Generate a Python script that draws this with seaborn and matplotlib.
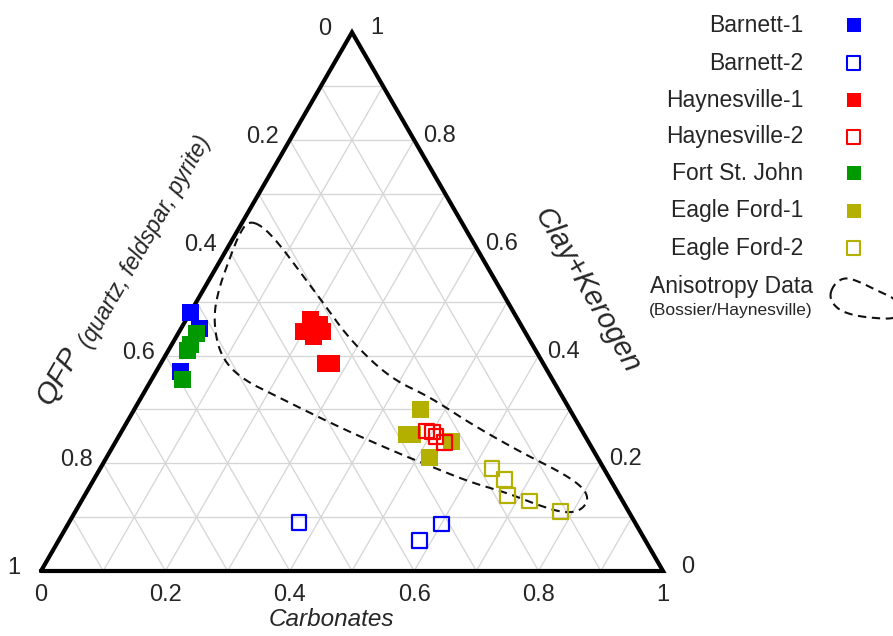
import numpy as np
import pandas as pd
import matplotlib
matplotlib.use("Agg")
import matplotlib.pyplot as plt
import seaborn as sns

# Sample compositions: carbonate and clay+kerogen fractions (QFP is the remainder)
barnett1_carb = [0.00, 0.03, 0.04]
barnett1_clay = [0.48, 0.45, 0.37]
barnett2_carb = [0.37, 0.58, 0.60]
barnett2_clay = [0.090, 0.057, 0.087]
haynes1_carb = [0.20, 0.22, 0.20, 0.23, 0.22, 0.265, 0.275]
haynes1_clay = [0.466, 0.457, 0.445, 0.445, 0.435, 0.385, 0.385]
haynes2_carb = [0.49, 0.50, 0.51, 0.53]
haynes2_clay = [0.260, 0.258, 0.250, 0.238]
fsj_carb = [0.03, 0.03, 0.03, 0.05]
fsj_clay = [0.44, 0.42, 0.41, 0.355]
eagle1_carb = [0.46, 0.46, 0.47, 0.52, 0.54]
eagle1_clay = [0.300, 0.254, 0.254, 0.210, 0.240]
eagle2_carb = [0.63, 0.66, 0.68, 0.72, 0.78]
eagle2_clay = [0.19, 0.17, 0.14, 0.13, 0.11]

# Envelope of the Bossier/Haynesville anisotropy dataset
aniso_carb = [0.008, 0.035, 0.082, 0.139, 0.199, 0.282, 0.382, 0.464, 0.547,
              0.660, 0.743, 0.793, 0.815, 0.811, 0.785, 0.736, 0.677, 0.607,
              0.528, 0.469, 0.348, 0.224, 0.141, 0.087, 0.044, 0.024, 0.012,
              0.006]
aniso_clay = [0.650, 0.641, 0.605, 0.555, 0.503, 0.429, 0.358, 0.323, 0.277,
              0.221, 0.184, 0.156, 0.132, 0.111, 0.108, 0.123, 0.145, 0.165,
              0.195, 0.217, 0.266, 0.321, 0.358, 0.401, 0.466, 0.522, 0.587,
              0.625]

ticks = [0.0, 0.2, 0.4, 0.6, 0.8, 1.0]
tick_text = ["0", "0.2", "0.4", "0.6", "0.8", "1"]

groups = [
    ("Barnett-1", barnett1_carb, barnett1_clay, "#0000ff", True),
    ("Barnett-2", barnett2_carb, barnett2_clay, "#0000ff", False),
    ("Haynesville-1", haynes1_carb, haynes1_clay, "#ff0000", True),
    ("Haynesville-2", haynes2_carb, haynes2_clay, "#ff0000", False),
    ("Fort St. John", fsj_carb, fsj_clay, "#009a00", True),
    ("Eagle Ford-1", eagle1_carb, eagle1_clay, "#b4b000", True),
    ("Eagle Ford-2", eagle2_carb, eagle2_clay, "#b4b000", False),
]
draw_order = ["Barnett-1", "Barnett-2", "Haynesville-1", "Fort St. John",
              "Eagle Ford-1", "Eagle Ford-2", "Haynesville-2"]

H = np.sqrt(3) / 2


def tern(carb, clay):
    carb = np.asarray(carb, float)
    clay = np.asarray(clay, float)
    return carb + clay / 2, clay * H


def smooth_closed(x, y, n=4):
    pts = np.column_stack([x, y])
    for _ in range(n):
        nxt = np.roll(pts, -1, axis=0)
        q = 0.75 * pts + 0.25 * nxt
        r = 0.25 * pts + 0.75 * nxt
        pts = np.empty((2 * len(q), 2))
        pts[0::2] = q
        pts[1::2] = r
    pts = np.vstack([pts, pts[:1]])
    return pts[:, 0], pts[:, 1]


rows = []
for name, c, k, col, filled in groups:
    for ci, ki in zip(c, k):
        rows.append({"formation": name, "carbonates": ci, "clay": ki,
                     "qfp": 1 - ci - ki})
df = pd.DataFrame(rows)
df["x"], df["y"] = tern(df["carbonates"], df["clay"])

sns.set_theme(style="white")
plt.rcParams["font.family"] = ["Liberation Sans", "DejaVu Sans"]

W, Hpx = 893, 636
S = 622.0  # pixels per unit side
X0, Y0 = 41.0, 571.0
fig = plt.figure(figsize=(W / 100, Hpx / 100), dpi=100)
ax = fig.add_axes([0, 0, 1, 1])
ax.set_xlim(-X0 / S, (W - X0) / S)
ax.set_ylim(-(Hpx - Y0) / S, Y0 / S)
ax.axis("off")


def P(px, py):
    return (px - X0) / S, (Y0 - py) / S


# grid
grid_kw = dict(color="#d6d6d6", lw=0.95, zorder=1)
for t in np.arange(1, 10) / 10:
    xs, ys = tern([0, 1 - t], [t, t])
    ax.plot(xs, ys, **grid_kw)
    xs, ys = tern([t, t], [0, 1 - t])
    ax.plot(xs, ys, **grid_kw)
    xs, ys = tern([1 - t, 0], [0, 1 - t])
    ax.plot(xs, ys, **grid_kw)

# anisotropy envelope
ex, ey = tern(aniso_carb, aniso_clay)
sx, sy = smooth_closed(ex, ey)
ax.plot(sx, sy, color="#111111", lw=1.5, ls=(0, (4, 2.7)), zorder=2)

# triangle frame
fx, fy = tern([0, 1, 0, 0], [0, 0, 1, 0])
ax.plot(fx, fy, color="black", lw=3.0, solid_joinstyle="miter", zorder=3)

# samples
style = {g[0]: g for g in groups}
for name in draw_order:
    _, c, k, col, filled = style[name]
    sub = df[df["formation"] == name]
    if filled:
        sns.scatterplot(data=sub, x="x", y="y", ax=ax, marker="s", s=150,
                        color=col, edgecolor="none", linewidth=0, zorder=5,
                        legend=False)
    else:
        sns.scatterplot(data=sub, x="x", y="y", ax=ax, marker="s", s=112,
                        facecolor="none", edgecolor=col, linewidth=1.6,
                        zorder=6, legend=False)

# tick labels
tfs = 17
for v, s in zip(ticks, tick_text):
    bx, by = tern(v, 0)
    ax.text(bx, by - 24 / S, s, ha="center", va="center", fontsize=tfs)
    rx, ry = tern(1 - v, v)
    ax.text(rx + 25 / S, ry + 4 / S, s, ha="center", va="center", fontsize=tfs)
    lx, ly = tern(0, 1 - v)
    ax.text(lx - 27 / S, ly + 3 / S, s, ha="center", va="center", fontsize=tfs)

# axis titles
ax.text(*P(331, 619), "Carbonates", ha="center", va="center", fontsize=17.5,
        style="italic")
ax.text(*P(587, 290), "Clay+Kerogen", ha="center", va="center", fontsize=21,
        style="italic", rotation=-60, rotation_mode="anchor")
ax.text(*P(59, 376), "QFP", ha="center", va="center", fontsize=21.5,
        style="italic", rotation=60, rotation_mode="anchor")
ax.text(*P(145, 242), "(quartz, feldspar, pyrite)", ha="center", va="center",
        fontsize=16.5, style="italic", rotation=60, rotation_mode="anchor")

# legend panel in pixel coordinates
lg = fig.add_axes([0, 0, 1, 1], facecolor="none")
lg.set_xlim(0, W)
lg.set_ylim(Hpx, 0)
lg.axis("off")
row_y = [25, 63, 100, 137, 173, 211, 248]
for (name, c, k, col, filled), yy in zip(groups, row_y):
    lg.text(803, yy, name, ha="right", va="center", fontsize=16.5)
    if filled:
        lg.scatter([853.5], [yy], marker="s", s=115, color=col, linewidth=0)
    else:
        lg.scatter([853.5], [yy], marker="s", s=90, facecolor="none",
                   edgecolor=col, linewidth=1.5)
lg.text(813, 287, "Anisotropy Data", ha="right", va="center", fontsize=16.5)
lg.text(813, 311, "(Bossier/Haynesville)", ha="right", va="center",
        fontsize=12.5)
ix = [829, 834, 845, 860, 878, 896, 900, 896, 872, 852, 837]
iy = [297, 284, 277, 282, 291, 299, 310, 319, 318, 315, 309]
lx_, ly_ = smooth_closed(ix, iy, n=3)
lg.plot(lx_, ly_, color="#111111", lw=1.5, ls=(0, (4, 2.7)))

fig.savefig("out.png", dpi=100)
